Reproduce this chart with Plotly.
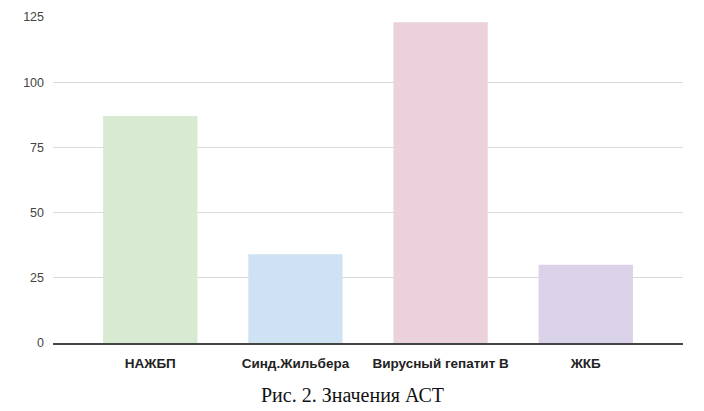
import plotly.graph_objects as go

categories = ['НАЖБП', 'Синд.Жильбера', 'Вирусный гепатит B', 'ЖКБ']
ast_values = [87, 34, 123, 30]
bar_colors = ['#d9ead3', '#cfe2f3', '#ead1dc', '#d9d2e9']
y_ticks = [0, 25, 50, 75, 100, 125]

fig = go.Figure()
fig.add_trace(go.Bar(x=categories, y=ast_values, marker_color=bar_colors,
                     marker_line_width=0, width=0.65))

# page body has 8px margin, so the figure is sized/offset for that
fig.update_layout(
    width=696, height=403,
    margin=dict(l=45, r=21, t=9, b=68, autoexpand=False),
    paper_bgcolor='white', plot_bgcolor='white',
    showlegend=False,
    font=dict(family='Arial, Liberation Sans, sans-serif', size=12, color='#333'),
)
fig.update_xaxes(
    range=[-0.67, 3.67], automargin=False,
    showline=True, linecolor='#444', linewidth=1.5,
    showgrid=False, ticks='', ticklabelstandoff=7,
    tickfont=dict(family='Arial, Liberation Sans, sans-serif', size=13.5, color='#222', weight='bold'),
)
fig.update_yaxes(
    range=[0, 125], tickvals=y_ticks, automargin=False,
    showgrid=True, gridcolor='#d9d9d9', gridwidth=1,
    zeroline=False, ticks='', ticklabelstandoff=8,
    tickfont=dict(size=12.5, color='#444'),
)
fig.add_annotation(text='Рис. 2. Значения АСТ', xref='paper', yref='paper',
                   x=0.475, y=-0.16, yanchor='middle', showarrow=False,
                   font=dict(family='Liberation Serif, Times New Roman, serif', size=20, color='#111'))

fig.write_html('out.html')
